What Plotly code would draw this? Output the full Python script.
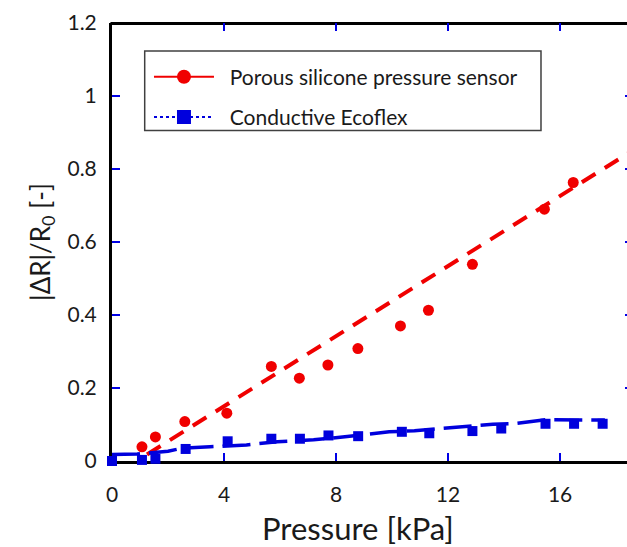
import plotly.graph_objects as go

# Porous silicone pressure sensor: relative resistance change vs pressure
pressure_porous = [1.07, 1.55, 2.6, 4.1, 5.69, 6.69, 7.71, 8.78, 10.3, 11.3, 12.87, 15.44, 16.47, 18.6]
dr_porous = [0.039, 0.066, 0.108, 0.131, 0.259, 0.227, 0.263, 0.308, 0.370, 0.413, 0.539, 0.690, 0.763, 0.99]

# Conductive Ecoflex reference sample
pressure_ecoflex = [0, 1.07, 1.55, 2.63, 4.13, 5.69, 6.71, 7.73, 8.79, 10.35, 11.33, 12.87, 13.9, 15.48, 16.5, 17.52]
dr_ecoflex = [0.0, 0.003, 0.006, 0.033, 0.054, 0.061, 0.061, 0.070, 0.068, 0.080, 0.076, 0.082, 0.089, 0.102, 0.102, 0.102]

# Trend lines
trend_porous_x = [1.25, 18.6]
trend_porous_y = [0.018, 0.851]
trend_ecoflex_x = [0, 0.9, 2.0, 2.5, 3.5, 4.8, 5.9, 7.2, 8.4, 9.9, 10.8, 12.0, 13.6, 14.4, 15.1, 15.5, 17.6]
trend_ecoflex_y = [0.018, 0.019, 0.027, 0.035, 0.039, 0.044, 0.053, 0.058, 0.067, 0.080, 0.083, 0.091, 0.101, 0.103, 0.110, 0.113, 0.112]

x_ticks = [0, 4, 8, 12, 16]
y_ticks = [0, 0.2, 0.4, 0.6, 0.8, 1.0, 1.2]
y_ticktext = ["0", "0.2", "0.4", "0.6", "0.8", "1", "1.2"]

RED = "#f00000"
BLUE = "#0000dd"
TICK_BLUE = "#0000e6"
FONT = "Lato"
PAD = "\u00a0\u00a0"

fig = go.Figure()

fig.add_trace(go.Scatter(
    x=trend_porous_x, y=trend_porous_y, mode="lines",
    line=dict(color=RED, width=4, dash="16px,11px"),
    showlegend=False, hoverinfo="skip",
))
fig.add_trace(go.Scatter(
    x=trend_ecoflex_x, y=trend_ecoflex_y, mode="lines",
    line=dict(color=BLUE, width=3.5, dash="28px,9px"),
    showlegend=False, hoverinfo="skip", cliponaxis=False,
))
fig.add_trace(go.Scatter(
    x=pressure_porous, y=dr_porous, mode="markers",
    marker=dict(symbol="circle", size=11, color=RED),
    showlegend=False,
))
fig.add_trace(go.Scatter(
    x=pressure_ecoflex, y=dr_ecoflex, mode="markers",
    marker=dict(symbol="square", size=10, color=BLUE),
    showlegend=False, cliponaxis=False,
))

# Legend entries
fig.add_trace(go.Scatter(
    x=[None], y=[None], mode="lines+markers", name=PAD + "Porous silicone pressure sensor",
    line=dict(color=RED, width=2), marker=dict(symbol="circle", size=14, color=RED),
    legendgroup="a",
))
fig.add_trace(go.Scatter(
    x=[None], y=[None], mode="lines+markers", name=PAD + "Conductive Ecoflex",
    line=dict(color=BLUE, width=2, dash="dot"), marker=dict(symbol="square", size=14, color=BLUE),
    legendgroup="b",
))
# empty trace so the right-hand tick axis is laid out
fig.add_trace(go.Scatter(x=[None], y=[None], yaxis="y2", showlegend=False, hoverinfo="skip"))

tick_common = dict(
    ticks="inside", ticklen=8, tickwidth=2, tickcolor=TICK_BLUE,
    showgrid=False, zeroline=False, layer="below traces", automargin=False,
    tickfont=dict(family=FONT, size=21, color="#1a1a1a"),
)

frame = dict(color="black", width=3)

fig.update_layout(
    width=627, height=547,
    margin=dict(l=112, r=0, t=23, b=86, autoexpand=False),
    paper_bgcolor="white", plot_bgcolor="white",
    font=dict(family=FONT, color="#1a1a1a"),
    xaxis=dict(
        range=[0, 18.39], tickvals=x_ticks, mirror="ticks", showline=False,
        ticklabelstandoff=19,
        **tick_common,
    ),
    yaxis=dict(
        range=[0, 1.2], tickvals=y_ticks, ticktext=y_ticktext,
        showline=True, linecolor="black", linewidth=3,
        ticklabelstandoff=8,
        title=dict(text="|ΔR|/R<sub>0</sub> [-]", font=dict(family=FONT, size=26), standoff=10),
        **tick_common,
    ),
    yaxis2=dict(
        overlaying="y", side="right", range=[0, 1.2], tickvals=y_ticks,
        ticks="inside", ticklen=2, tickwidth=2, tickcolor=TICK_BLUE,
        showticklabels=False, showline=False, showgrid=False, zeroline=False,
        automargin=False,
    ),
    legend=dict(
        x=0.0718, y=0.9233, xanchor="left", yanchor="top",
        bgcolor="rgba(0,0,0,0)", borderwidth=0,
        font=dict(family=FONT, size=21, color="#1a1a1a"),
        itemwidth=60, tracegroupgap=10,
    ),
    shapes=[
        # bottom and top frame lines, running off the right edge
        dict(type="line", xref="paper", yref="paper", x0=-0.003, x1=1.03,
             ysizemode="pixel", yanchor=0, y0=-1.5, y1=-1.5, line=frame, layer="below"),
        dict(type="line", xref="paper", yref="paper", x0=-0.003, x1=1.03,
             ysizemode="pixel", yanchor=1, y0=-0.5, y1=-0.5, line=frame, layer="below"),
        # legend frame
        dict(type="rect", xref="paper", yref="paper",
             x0=0.0635, x1=0.833, y0=0.7548, y1=0.936,
             line=dict(color="#404040", width=1.5), fillcolor="white", layer="below"),
    ],
    annotations=[dict(
        text="Pressure [kPa]", xref="paper", yref="paper",
        x=0.4777, y=-0.1535, xanchor="center", yanchor="middle",
        showarrow=False, font=dict(family=FONT, size=31, color="#1a1a1a"),
    )],
)

fig.write_html("out.html")
